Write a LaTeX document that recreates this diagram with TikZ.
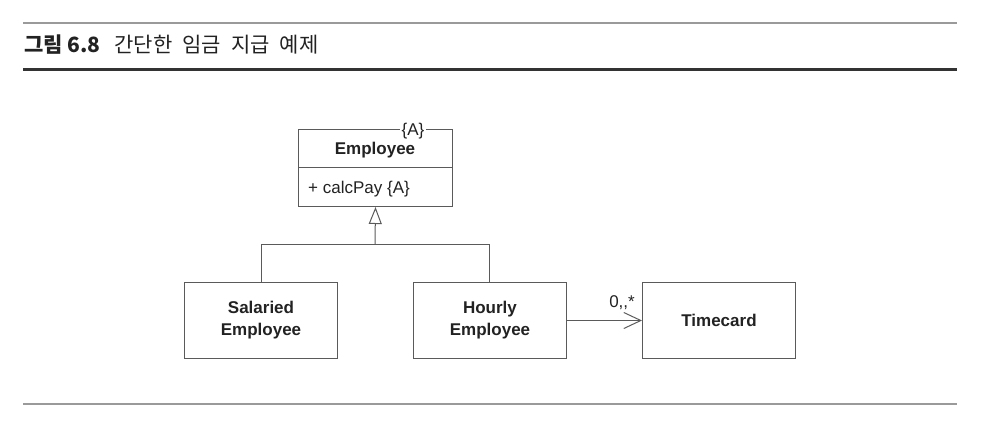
\documentclass[tikz,border=0pt]{standalone}
\usepackage{fontspec}
\setmainfont{Liberation Sans}
\newfontfamily\kr{Noto Sans CJK KR}
\usetikzlibrary{arrows.meta}
\definecolor{rulegray}{HTML}{9A9A9A}
\definecolor{boxgray}{HTML}{5A5A5A}
\definecolor{txt}{HTML}{222222}
\tikzset{
  umlbox/.style={draw=boxgray, line width=1pt, minimum width=153pt, minimum height=76pt, inner sep=0pt, align=center, font=\fontsize{17}{22}\selectfont\bfseries, text=txt},
  conn/.style={draw=boxgray, line width=1pt},
  lbl/.style={font=\fontsize{17}{20}\selectfont, text=txt, inner sep=1pt}
}
\begin{document}
\begin{tikzpicture}[x=1pt,y=-1pt]
\useasboundingbox (0,0) rectangle (998,434);
% rules
\draw[rulegray, line width=1.5pt] (23,23) -- (957,23);
\draw[black!80, line width=3pt] (23,69) -- (957,69);
\draw[rulegray, line width=1.5pt] (23,404) -- (957,404);
% title
\node[anchor=base west, inner sep=0pt, text=txt] (title) at (24,52)
  {\kr\fontsize{21}{24}\selectfont\textbf{그림 6.8}\hspace{14pt}간단한\hspace{10pt}임금\hspace{10pt}지급\hspace{10pt}예제};
% Employee class
\node[draw=boxgray, line width=1pt, minimum width=154pt, minimum height=38pt, inner sep=0pt, anchor=north west] (emp) at (298,129) {};
\node[font=\fontsize{17}{20}\selectfont\bfseries, text=txt, anchor=base] (empname) at (375,154) {Employee};
\node[draw=boxgray, line width=1pt, minimum width=154pt, minimum height=39pt, inner sep=0pt, anchor=north west] (ops) at (298,167) {};
\node[lbl, anchor=base west] (opstxt) at (307,193) {+ calcPay \{A\}};
\node[lbl, fill=white, inner sep=1.5pt, anchor=base] (abs) at (413,135) {\{A\}};
% subclasses
\node[umlbox, anchor=north west] (sal) at (184,282) {Salaried\\Employee};
\node[umlbox, anchor=north west] (hour) at (413,282) {Hourly\\Employee};
\node[umlbox, anchor=north west] (time) at (642,282) {Timecard};
% generalization
\coordinate (jn) at (375,244);
\coordinate (jl) at (261,244);
\coordinate (jr) at (489,244);
\draw[conn] (jl |- sal.north) -- (jl) -- (jr) -- (jr |- hour.north);
\draw[conn, -{Triangle[open, length=17pt, width=13pt, line width=1pt]}] (jn) -- (ops.south);
% association
\draw[conn, -{Straight Barb[length=17pt, width=16pt, line width=1pt]}] (hour.east) -- (time.west);
\node[lbl, anchor=base east] (mult) at (636,307) {0,{},*};
\end{tikzpicture}
\end{document}
